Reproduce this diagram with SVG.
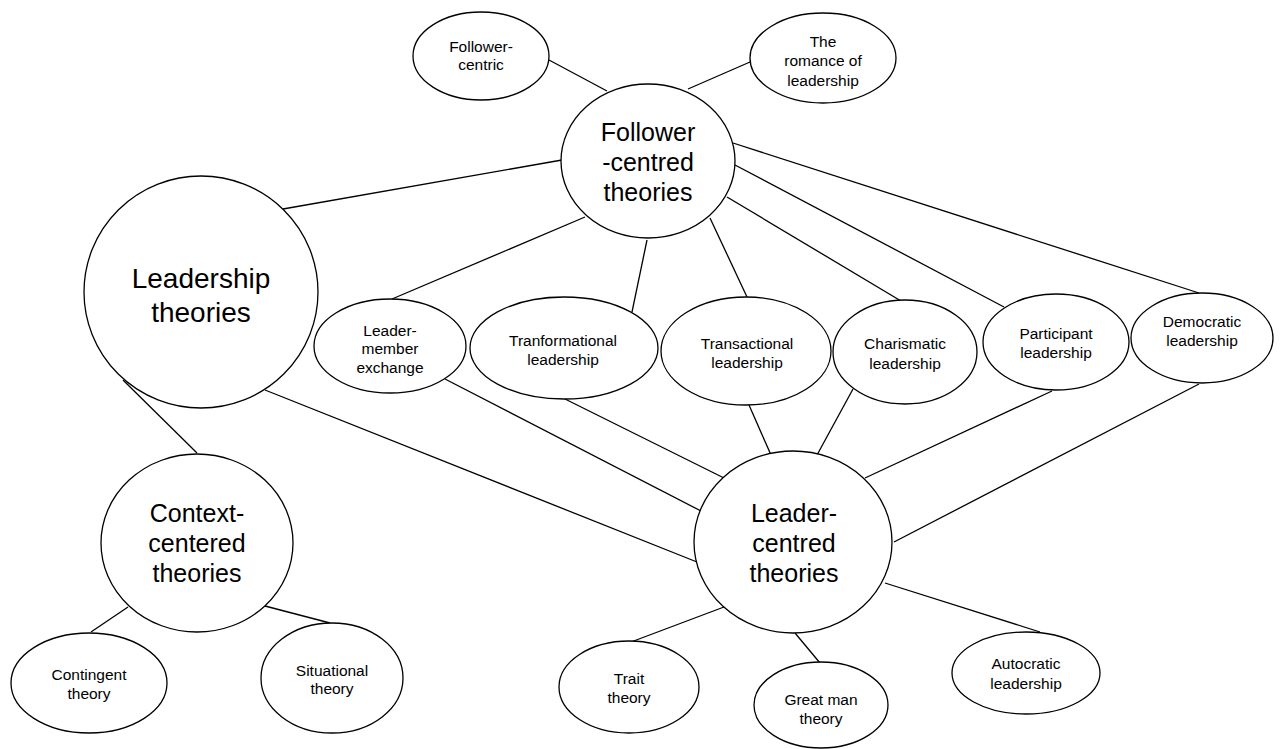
<svg xmlns="http://www.w3.org/2000/svg" width="1281" height="749" viewBox="0 0 1281 749">
<style>
.n{fill:#fff;stroke:#000;stroke-width:1.3}
.c line{stroke:#000;stroke-width:1.3}
text{font-family:"Liberation Sans",Arial,sans-serif;fill:#000;text-anchor:middle}
.s{font-size:15.5px}
.m{font-size:25px}
.l{font-size:28px}
</style>
<rect width="1281" height="749" fill="#fff"/>
<g id="connectors" class="c">
<line x1="549" y1="60" x2="607" y2="91"/>
<line x1="750" y1="62" x2="688" y2="89"/>
<line x1="283" y1="209" x2="562" y2="160"/>
<line x1="585" y1="217" x2="392" y2="299"/>
<line x1="647" y1="240" x2="632" y2="312"/>
<line x1="710" y1="218" x2="747" y2="297"/>
<line x1="727" y1="197" x2="901" y2="301"/>
<line x1="735" y1="165" x2="1004" y2="307"/>
<line x1="733" y1="143" x2="1199" y2="293"/>
<line x1="445" y1="379" x2="701" y2="511"/>
<line x1="565" y1="399" x2="724" y2="478"/>
<line x1="749" y1="405" x2="771" y2="455"/>
<line x1="853" y1="389" x2="817" y2="455"/>
<line x1="1052" y1="391" x2="865" y2="478"/>
<line x1="1199" y1="384" x2="894" y2="542"/>
<line x1="265" y1="390" x2="697" y2="562"/>
<line x1="123" y1="380" x2="197" y2="453"/>
<line x1="128" y1="607" x2="91" y2="632"/>
<line x1="265" y1="606" x2="330" y2="623"/>
<line x1="724" y1="607" x2="631" y2="642"/>
<line x1="795" y1="633" x2="820" y2="663"/>
<line x1="885" y1="583" x2="1040" y2="632"/>
</g>
<g id="follower-centric"><ellipse class="n" cx="481" cy="56" rx="68" ry="44"/><text class="s" x="481" y="51.5">Follower-</text><text class="s" x="481" y="70">centric</text></g>
<g id="romance"><ellipse class="n" cx="823" cy="58" rx="73" ry="45"/><text class="s" x="823" y="46.5">The</text><text class="s" x="823" y="66">romance of</text><text class="s" x="823" y="85.5">leadership</text></g>
<g id="follower-centred"><ellipse class="n" cx="648" cy="161" rx="87" ry="77"/><text class="m" x="648" y="141">Follower</text><text class="m" x="648" y="171">-centred</text><text class="m" x="648" y="201">theories</text></g>
<g id="leadership-theories"><ellipse class="n" cx="201" cy="292" rx="117" ry="116"/><text class="l" x="201" y="288">Leadership</text><text class="l" x="201" y="322">theories</text></g>
<g id="lmx"><ellipse class="n" cx="390" cy="346" rx="76" ry="47"/><text class="s" x="390" y="335.5">Leader-</text><text class="s" x="390" y="354">member</text><text class="s" x="390" y="372.5">exchange</text></g>
<g id="tranformational"><ellipse class="n" cx="564" cy="348" rx="94" ry="51"/><text class="s" x="563" y="345.5">Tranformational</text><text class="s" x="563" y="364.5">leadership</text></g>
<g id="transactional"><ellipse class="n" cx="746" cy="351" rx="85" ry="54"/><text class="s" x="747" y="348.5">Transactional</text><text class="s" x="747" y="367.5">leadership</text></g>
<g id="charismatic"><ellipse class="n" cx="905" cy="352" rx="72" ry="52"/><text class="s" x="905" y="348.5">Charismatic</text><text class="s" x="905" y="368.5">leadership</text></g>
<g id="participant"><ellipse class="n" cx="1056" cy="342" rx="73" ry="48"/><text class="s" x="1056" y="338.5">Participant</text><text class="s" x="1056" y="357.5">leadership</text></g>
<g id="democratic"><ellipse class="n" cx="1202" cy="338" rx="71" ry="45"/><text class="s" x="1202" y="326.5">Democratic</text><text class="s" x="1202" y="345.5">leadership</text></g>
<g id="context-centered"><ellipse class="n" cx="197" cy="543" rx="96" ry="89"/><text class="m" x="197" y="522">Context-</text><text class="m" x="197" y="552">centered</text><text class="m" x="197" y="582">theories</text></g>
<g id="contingent"><ellipse class="n" cx="89" cy="683" rx="78" ry="50"/><text class="s" x="89" y="679.5">Contingent</text><text class="s" x="89" y="698.5">theory</text></g>
<g id="situational"><ellipse class="n" cx="332" cy="678" rx="71" ry="55"/><text class="s" x="332" y="675.5">Situational</text><text class="s" x="332" y="693.5">theory</text></g>
<g id="leader-centred"><ellipse class="n" cx="793" cy="542" rx="99" ry="91"/><text class="m" x="794" y="522">Leader-</text><text class="m" x="794" y="552">centred</text><text class="m" x="794" y="582">theories</text></g>
<g id="trait"><ellipse class="n" cx="629" cy="687" rx="70" ry="46"/><text class="s" x="629" y="683.5">Trait</text><text class="s" x="629" y="702.5">theory</text></g>
<g id="great-man"><ellipse class="n" cx="821" cy="705" rx="67" ry="43"/><text class="s" x="821" y="704.5">Great man</text><text class="s" x="821" y="723.5">theory</text></g>
<g id="autocratic"><ellipse class="n" cx="1026" cy="673" rx="74" ry="41"/><text class="s" x="1026" y="668.5">Autocratic</text><text class="s" x="1026" y="688.5">leadership</text></g>
</svg>
